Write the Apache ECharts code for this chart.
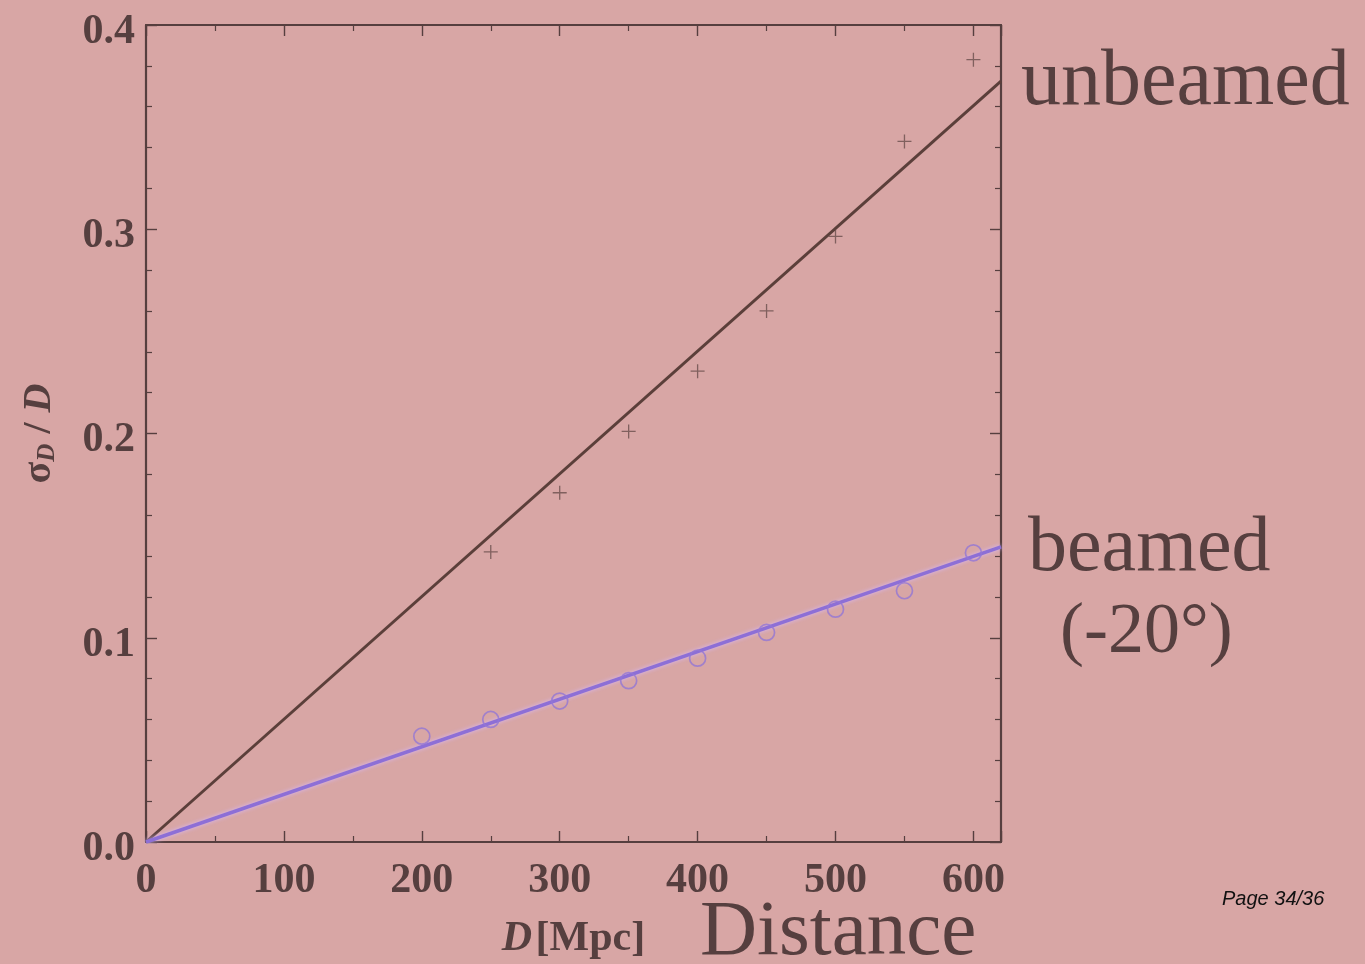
<!DOCTYPE html>
<html>
<head>
<meta charset="utf-8">
<script src="https://cdn.jsdelivr.net/npm/echarts@6/dist/echarts.min.js"></script>
<style>
  html, body { margin: 0; padding: 0; background: #d8a6a5; }
  #chart { width: 1365px; height: 964px; }
</style>
</head>
<body>
<div id="chart"></div>
<script>
// Distance D [Mpc] of each simulated source
const distances = [200, 250, 300, 350, 400, 450, 500, 550, 600];
// Fractional distance error sigma_D / D, unbeamed population (crosses)
const unbeamedErr = [null, 0.142, 0.171, 0.201, 0.2305, 0.260, 0.2965, 0.343, 0.383];
// Fractional distance error, beamed population within 20 degrees (circles)
const beamedErr = [0.0518, 0.060, 0.069, 0.079, 0.090, 0.1026, 0.114, 0.123, 0.1416];
// Linear fits through the origin: [D, sigma_D / D]
const unbeamedFit = [[0, 0], [620, 0.3725]];
const beamedFit = [[0, 0], [620, 0.1445]];
// Axis ranges and tick spacing
const xRange = [0, 620];
const yRange = [0, 0.4];
const xStep = 100;
const yStep = 0.1;

const ink = '#563f3f';
const serif = '"Liberation Serif", "DejaVu Serif", serif';

const crossPath = 'path://M5,0L5,10M0,5L10,5';

function frameAxis(extra) {
  return Object.assign({
    axisLine: { show: true, onZero: false, lineStyle: { color: ink, width: 2.2 } },
    axisTick: { show: true, inside: true, length: 11, lineStyle: { color: ink, width: 1.4 } },
    splitLine: { show: false }
  }, extra);
}

const chart = echarts.init(document.getElementById('chart'), null, { renderer: 'canvas' });

chart.setOption({
  backgroundColor: '#d8a6a5',
  animation: false,
  grid: { left: 146, right: 364, top: 25, bottom: 122, containLabel: false, outerBoundsMode: 'none' },
  xAxis: [
    frameAxis({
      type: 'value', position: 'bottom', min: xRange[0], max: xRange[1], interval: xStep,
      minorTick: { show: true, splitNumber: 2, length: 6, lineStyle: { color: ink, width: 1.2 } },
      axisLabel: {
        show: true, margin: 18, color: ink, fontFamily: serif, fontSize: 42, fontWeight: 'bold',
        showMaxLabel: false
      },
      name: '{i|D} {n|[Mpc]}',
      nameLocation: 'middle',
      nameGap: 76,
      nameTextStyle: {
        rich: {
          i: { fontFamily: serif, fontStyle: 'italic', fontWeight: 'bold', fontSize: 42, color: ink },
          n: { fontFamily: serif, fontWeight: 'bold', fontSize: 42, color: ink }
        }
      }
    }),
    frameAxis({
      type: 'value', position: 'top', min: xRange[0], max: xRange[1], interval: xStep,
      minorTick: { show: true, splitNumber: 2, length: 6, lineStyle: { color: ink, width: 1.2 } },
      axisLabel: { show: false }
    })
  ],
  yAxis: [
    frameAxis({
      type: 'value', position: 'left', min: yRange[0], max: yRange[1], interval: yStep,
      minorTick: { show: true, splitNumber: 5, length: 6, lineStyle: { color: ink, width: 1.2 } },
      axisLabel: {
        show: true, margin: 11,
        formatter: v => '{v|' + v.toFixed(1) + '}',
        rich: {
          v: { color: ink, fontFamily: serif, fontSize: 42, fontWeight: 'bold', padding: [14, 0, 0, 0] }
        }
      },
      name: '{s|σ}{sub|D}{n| / }{i|D}',
      nameLocation: 'middle',
      nameRotate: 90,
      nameGap: 86,
      nameTextStyle: {
        rich: {
          s: { fontFamily: serif, fontWeight: 'bold', fontSize: 40, color: ink },
          sub: { fontFamily: serif, fontStyle: 'italic', fontWeight: 'bold', fontSize: 25, color: ink, padding: [16, 0, 0, 0] },
          n: { fontFamily: serif, fontWeight: 'bold', fontSize: 40, color: ink },
          i: { fontFamily: serif, fontStyle: 'italic', fontWeight: 'bold', fontSize: 40, color: ink }
        }
      }
    }),
    frameAxis({
      type: 'value', position: 'right', min: yRange[0], max: yRange[1], interval: yStep,
      minorTick: { show: true, splitNumber: 5, length: 6, lineStyle: { color: ink, width: 1.2 } },
      axisLabel: { show: false }
    })
  ],
  series: [
    {
      name: 'unbeamed fit', type: 'line', data: unbeamedFit, showSymbol: false,
      lineStyle: { color: '#5b3f3a', width: 3 }, z: 3
    },
    {
      name: 'beamed fit', type: 'line', data: beamedFit, showSymbol: false,
      lineStyle: { color: '#8d6fd6', width: 3.5, shadowColor: 'rgba(215,185,255,0.9)', shadowBlur: 4 }, z: 3
    },
    {
      name: 'unbeamed', type: 'scatter',
      data: distances.map((d, i) => [d, unbeamedErr[i]]).filter(p => p[1] !== null),
      symbol: crossPath, symbolSize: 14,
      itemStyle: { color: 'rgba(0,0,0,0)', borderColor: '#6a4f4c', borderWidth: 1.3 }, z: 4
    },
    {
      name: 'beamed', type: 'scatter',
      data: distances.map((d, i) => [d, beamedErr[i]]),
      symbol: 'circle', symbolSize: 16,
      itemStyle: { color: 'rgba(0,0,0,0)', borderColor: '#9477d4', borderWidth: 1.7 }, z: 4
    }
  ],
  graphic: [
    {
      type: 'text', left: 1021, top: 43,
      style: { text: 'unbeamed', font: '80px ' + serif, fill: ink }
    },
    {
      type: 'text', left: 1028, top: 511,
      style: { text: 'beamed', font: '78px ' + serif, fill: ink }
    },
    {
      type: 'text', left: 1060, top: 597,
      style: { text: '(-20°)', font: '72px ' + serif, fill: ink }
    },
    {
      type: 'text', left: 700, top: 894,
      style: { text: 'Distance', font: '79px ' + serif, fill: ink }
    },
    {
      type: 'text', left: 1222, top: 889,
      style: { text: 'Page 34/36', font: 'italic 20px "Liberation Sans", Arial, sans-serif', fill: '#111111' }
    }
  ]
});
</script>
</body>
</html>
